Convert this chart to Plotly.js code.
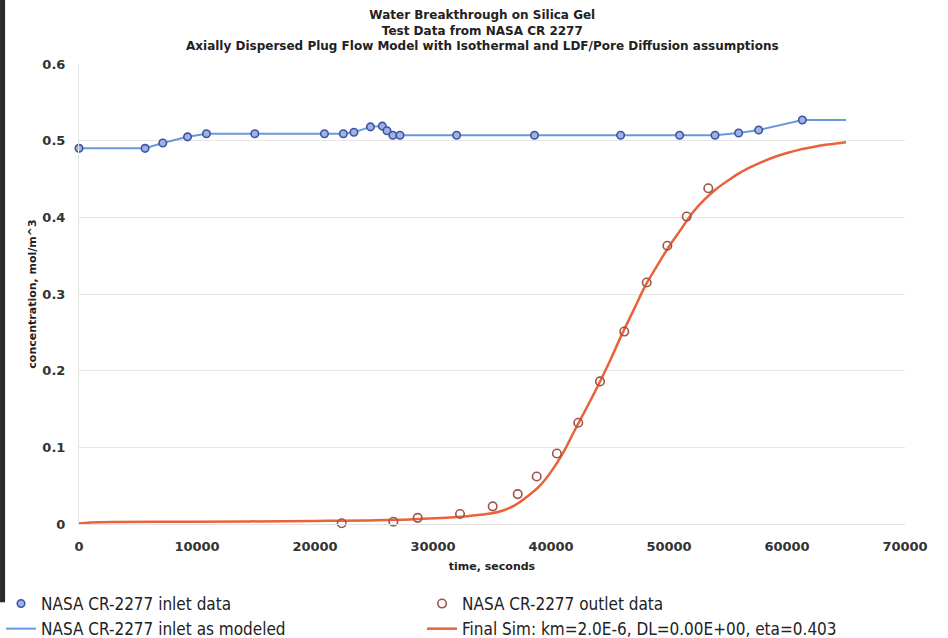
<!DOCTYPE html>
<html>
<head>
<meta charset="utf-8">
<script src="https://cdn.plot.ly/plotly-3.0.1.min.js"></script>
<style>html,body{margin:0;padding:0;background:#fff;}#chart{width:948px;height:638px;}</style>
</head>
<body>
<div id="chart"></div>
<script>
// Inlet measured data (time s, concentration mol/m^3)
const inletTime = [0, 5600, 7100, 9200, 10800, 14900, 20800, 22400, 23300, 24700, 25700, 26100, 26600, 27200, 32000, 38600, 45900, 50900, 53900, 55900, 57600, 61300];
const inletConc = [0.490, 0.490, 0.497, 0.505, 0.509, 0.509, 0.509, 0.509, 0.511, 0.518, 0.519, 0.513, 0.507, 0.507, 0.507, 0.507, 0.507, 0.507, 0.507, 0.510, 0.514, 0.527];

// Inlet as modeled
const inletModelTime = [0, 5600, 7100, 9200, 10800, 14900, 20800, 22400, 23300, 24700, 25700, 26100, 26600, 27200, 32000, 38600, 45900, 50900, 53900, 55900, 57600, 61300, 65000];
const inletModelConc = [0.490, 0.490, 0.497, 0.505, 0.509, 0.509, 0.509, 0.509, 0.511, 0.518, 0.519, 0.513, 0.507, 0.507, 0.507, 0.507, 0.507, 0.507, 0.507, 0.510, 0.514, 0.527, 0.527];

// Outlet measured data
const outletTime = [22260, 26640, 28700, 32290, 35060, 37180, 38790, 40500, 42310, 44150, 46210, 48110, 49860, 51500, 53330];
const outletConc = [0.001, 0.003, 0.008, 0.013, 0.023, 0.039, 0.062, 0.092, 0.132, 0.186, 0.251, 0.315, 0.363, 0.401, 0.438];

// Final simulation curve
const simTime = [0, 1000, 10000, 20000, 28000, 32000, 34000, 35000, 36000, 37000, 38000, 39000, 40000, 41000, 42000, 43000, 44000, 45000, 46000, 47000, 48000, 49000, 50000, 51000, 52000, 53000, 54000, 55000, 56000, 57000, 58000, 59000, 60000, 61000, 62000, 63000, 64000, 65000];
const simConc = [0.0005, 0.002, 0.003, 0.004, 0.006, 0.009, 0.012, 0.014, 0.018, 0.025, 0.036, 0.049, 0.068, 0.092, 0.122, 0.151, 0.181, 0.213, 0.247, 0.279, 0.311, 0.337, 0.362, 0.384, 0.406, 0.423, 0.437, 0.448, 0.458, 0.466, 0.473, 0.479, 0.484, 0.488, 0.491, 0.494, 0.496, 0.498];

const titleLines = ["Water Breakthrough on Silica Gel", "Test Data from NASA CR 2277", "Axially Dispersed Plug Flow Model with Isothermal and LDF/Pore Diffusion assumptions"];
const names = ["NASA CR-2277 inlet data", "NASA CR-2277 outlet data", "NASA CR-2277 inlet as modeled", "Final Sim: km=2.0E-6, DL=0.00E+00, eta=0.403"];

const traces = [
  {x: inletModelTime, y: inletModelConc, mode: 'lines', name: names[2], legend: 'legend', legendrank: 2,
   line: {color: '#6b97df', width: 2}},
  {x: simTime, y: simConc, mode: 'lines', name: names[3], legend: 'legend2', legendrank: 2,
   line: {color: '#e8623a', width: 2.5, shape: 'spline'}},
  {x: inletTime, y: inletConc, mode: 'markers', name: names[0], legend: 'legend', legendrank: 1, cliponaxis: false,
   marker: {symbol: 'circle', size: 7.5, color: '#9db3e6', line: {color: '#3f54a0', width: 1.6}}},
  {x: outletTime, y: outletConc, mode: 'markers', name: names[1], legend: 'legend2', legendrank: 1, cliponaxis: false,
   marker: {symbol: 'circle-open', size: 8.5, color: '#a05448', line: {color: '#a05448', width: 1.6}}}
];

const legendFont = {family: 'DejaVu Sans Condensed, DejaVu Sans, sans-serif', size: 17, color: '#222'};

const layout = {
  width: 948, height: 638,
  paper_bgcolor: '#ffffff', plot_bgcolor: '#ffffff',
  margin: {l: 79, r: 43, t: 64, b: 114, autoexpand: false},
  font: {family: 'DejaVu Sans, sans-serif', color: '#333'},
  annotations: [
    {text: titleLines.join('<br>'), xref: 'paper', yref: 'paper', x: 0.488, y: 1.0196,
     xanchor: 'center', yanchor: 'bottom', showarrow: false, align: 'center',
     font: {family: 'DejaVu Sans, sans-serif', size: 12, color: '#222', weight: 'bold'}}
  ],
  xaxis: {range: [0, 70000], dtick: 10000, tick0: 0, tickformat: 'd', showgrid: false, zeroline: false,
          showline: true, linecolor: '#e2e2e2', linewidth: 1, ticks: '', ticklabelstandoff: 10,
          tickfont: {size: 13, color: '#333', weight: 'bold'},
          title: {text: 'time, seconds', font: {size: 11, color: '#222', weight: 'bold'}, standoff: 9}},
  yaxis: {range: [0, 0.6], dtick: 0.1, tick0: 0, showgrid: true, gridcolor: '#e6e6e6', zeroline: false,
          showline: true, linecolor: '#e2e2e2', linewidth: 1, ticks: '', ticklabelstandoff: 10,
          tickfont: {size: 13, color: '#333', weight: 'bold'},
          title: {text: 'concentration, mol/m^3', font: {size: 11, color: '#222', weight: 'bold'}, standoff: 3}},
  showlegend: true,
  legend: {orientation: 'v', x: -0.0944, xanchor: 'left', y: -0.1348, yanchor: 'top',
           traceorder: 'normal', font: legendFont, bgcolor: 'rgba(0,0,0,0)', itemwidth: 30, tracegroupgap: 0},
  legend2: {orientation: 'v', x: 0.4153, xanchor: 'left', y: -0.1348, yanchor: 'top',
           traceorder: 'normal', font: legendFont, bgcolor: 'rgba(0,0,0,0)', itemwidth: 30, tracegroupgap: 0},
  shapes: [
    {type: 'rect', xref: 'paper', yref: 'paper', x0: -0.0956, x1: -0.0895, y0: -0.17, y1: 1.14,
     fillcolor: '#2a2a2a', line: {width: 0}, layer: 'above'}
  ]
};

Plotly.newPlot('chart', traces, layout, {displayModeBar: false, staticPlot: true});
</script>
</body>
</html>
